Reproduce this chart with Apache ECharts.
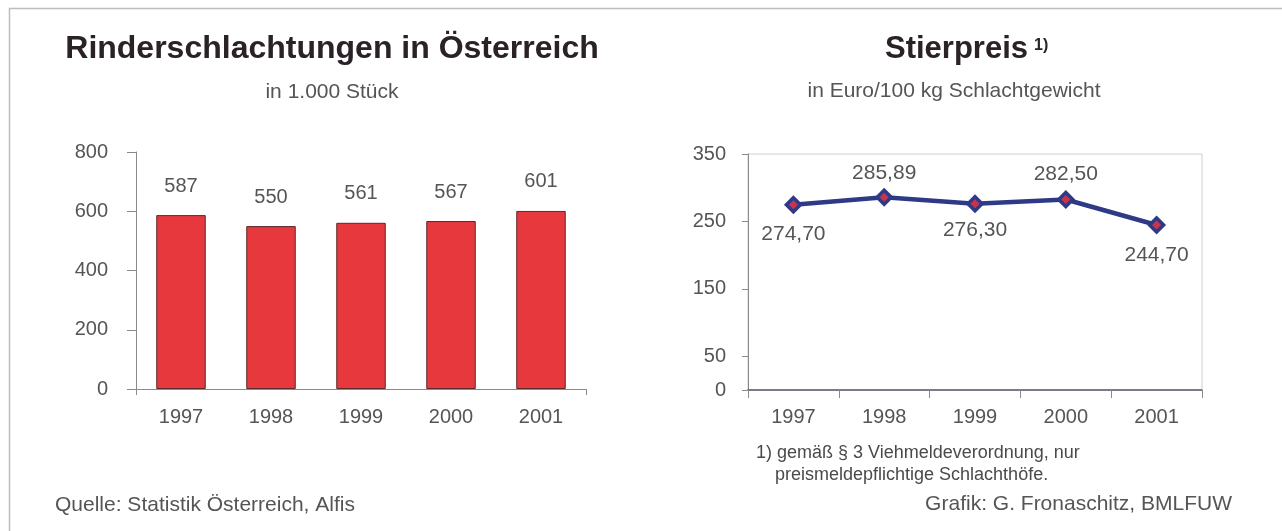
<!DOCTYPE html>
<html><head><meta charset="utf-8">
<script src="https://cdn.jsdelivr.net/npm/echarts@6/dist/echarts.min.js"></script>
<style>html,body{margin:0;padding:0;background:#fff}#c{width:1282px;height:531px}</style>
</head><body><div id="c"></div>
<script>
// ---- data ----
const years = ['1997', '1998', '1999', '2000', '2001'];
const slaughter = [587, 550, 561, 567, 601];          // in 1.000 Stück
const slaughterTicks = [0, 200, 400, 600, 800];
const priceYears = ['1997', '1998', '1999', '2000', '2001'];
const price = [274.70, 285.89, 276.30, 282.50, 244.70]; // Euro/100 kg
const priceTicks = [0, 50, 150, 250, 350];

// ---- styles ----
const priceLabelPos = ['bottom', 'top', 'bottom', 'top', 'bottom'];
const priceLabelDist = [10, 5, 7, 6, 11];
const FONT = '"Liberation Sans", Arial, sans-serif';
const AX = '#555555';
const fmt = v => v.toFixed(2).replace('.', ',');

const chart = echarts.init(document.getElementById('c'), null, {renderer: 'canvas'});
chart.setOption({
  backgroundColor: '#ffffff',
  animation: false,
  textStyle: {fontFamily: FONT},
  grid: [
    {left: 136, top: 152, width: 450, height: 237},
    {left: 748, top: 154, width: 454, height: 236, show: true, borderColor: '#cfcfcf', borderWidth: 1}
  ],
  xAxis: [
    {
      type: 'category', gridIndex: 0, data: years, boundaryGap: true,
      axisLine: {lineStyle: {color: '#8a8a8a', width: 1}},
      axisTick: {show: true, length: 6, interval: (i) => i === 0, lineStyle: {color: '#8a8a8a'}},
      axisLabel: {color: AX, fontSize: 20, margin: 18, fontFamily: FONT}
    },
    {
      type: 'category', gridIndex: 1, data: priceYears, boundaryGap: true,
      axisLine: {lineStyle: {color: '#5a5a6a', width: 1.5}},
      axisTick: {show: true, length: 8, lineStyle: {color: '#8a8a8a'}},
      axisLabel: {color: AX, fontSize: 20, margin: 17, fontFamily: FONT}
    }
  ],
  yAxis: [
    {
      type: 'value', gridIndex: 0, min: 0, max: 800, interval: 200,
      axisLine: {show: true, lineStyle: {color: '#8a8a8a', width: 1}},
      axisTick: {show: true, length: 9, lineStyle: {color: '#8a8a8a'}, customValues: slaughterTicks},
      axisLabel: {color: AX, fontSize: 20, margin: 28, fontFamily: FONT, customValues: slaughterTicks},
      splitLine: {show: false}
    },
    {
      type: 'value', gridIndex: 1, min: 0, max: 350, interval: 50,
      axisLine: {show: true, lineStyle: {color: '#8a8a8a', width: 1}},
      axisTick: {show: true, length: 6, lineStyle: {color: '#8a8a8a'}, customValues: priceTicks},
      axisLabel: {color: AX, fontSize: 20, margin: 22, fontFamily: FONT, customValues: priceTicks},
      splitLine: {show: false}
    }
  ],
  series: [
    {
      type: 'bar', xAxisIndex: 0, yAxisIndex: 0, data: slaughter,
      barWidth: '55%',
      itemStyle: {color: '#e6383d', borderColor: '#5a2a2a', borderWidth: 1},
      label: {show: true, position: 'top', distance: 19, color: AX, fontSize: 20, fontFamily: FONT}
    },
    {
      type: 'line', xAxisIndex: 1, yAxisIndex: 1,
      data: price.map((v, i) => ({value: v, label: {position: priceLabelPos[i], distance: priceLabelDist[i]}})),
      lineStyle: {color: '#2e3a86', width: 4.5},
      symbol: 'diamond', symbolSize: 14,
      itemStyle: {color: '#c8344a', borderColor: '#2e3a86', borderWidth: 3.5},
      label: {show: true, color: AX, fontSize: 21, fontFamily: FONT,
              formatter: p => fmt(p.value)}
    }
  ],
  graphic: [
    {type: 'polyline', silent: true, shape: {points: [[9.5, 540], [9.5, 8.5], [1290, 8.5]]},
     style: {stroke: '#bdbdbd', lineWidth: 1.5, fill: null}},
    {type: 'text', x: 332, y: 49, style: {text: 'Rinderschlachtungen in Österreich', font: 'bold 32px ' + FONT,
      fill: '#2a2226', textAlign: 'center', textVerticalAlign: 'middle'}},
    {type: 'text', x: 332, y: 92, style: {text: 'in 1.000 Stück', font: '21px ' + FONT,
      fill: '#555555', textAlign: 'center', textVerticalAlign: 'middle'}},
    {type: 'text', x: 1028, y: 49, style: {text: 'Stierpreis', font: 'bold 31px ' + FONT,
      fill: '#2a2226', textAlign: 'right', textVerticalAlign: 'middle'}},
    {type: 'text', x: 1034, y: 46, style: {text: '1)', font: 'bold 16px ' + FONT,
      fill: '#2a2226', textAlign: 'left', textVerticalAlign: 'middle'}},
    {type: 'text', x: 954, y: 91, style: {text: 'in Euro/100 kg Schlachtgewicht', font: '21px ' + FONT,
      fill: '#555555', textAlign: 'center', textVerticalAlign: 'middle'}},
    {type: 'text', x: 756, y: 453, style: {text: '1) gemäß § 3 Viehmeldeverordnung, nur', font: '18px ' + FONT,
      fill: '#4a4a4a', textAlign: 'left', textVerticalAlign: 'middle'}},
    {type: 'text', x: 775, y: 475, style: {text: 'preismeldepflichtige Schlachthöfe.', font: '18px ' + FONT,
      fill: '#4a4a4a', textAlign: 'left', textVerticalAlign: 'middle'}},
    {type: 'text', x: 55, y: 505, style: {text: 'Quelle: Statistik Österreich, Alfis', font: '21px ' + FONT,
      fill: '#555555', textAlign: 'left', textVerticalAlign: 'middle'}},
    {type: 'text', x: 1232, y: 504, style: {text: 'Grafik: G. Fronaschitz, BMLFUW', font: '21px ' + FONT,
      fill: '#555555', textAlign: 'right', textVerticalAlign: 'middle'}}
  ]
});
</script>
</body></html>
